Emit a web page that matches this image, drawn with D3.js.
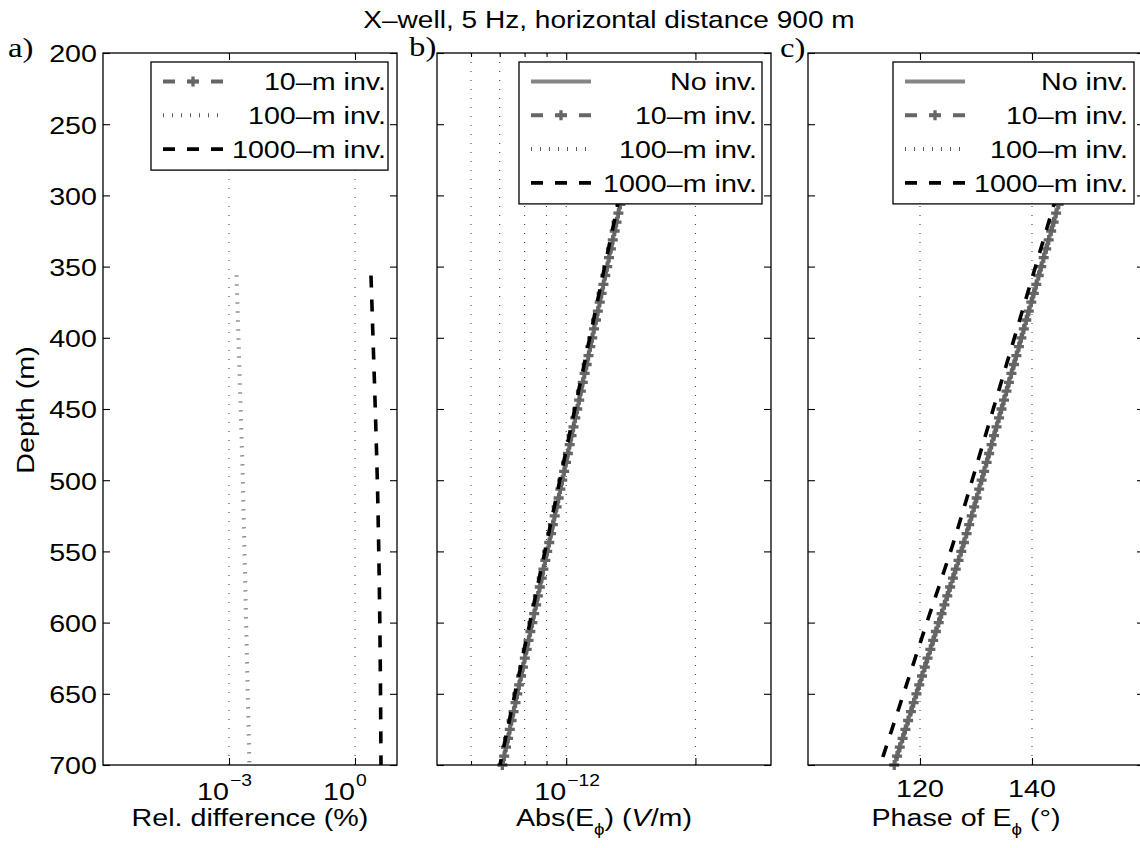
<!DOCTYPE html>
<html><head><meta charset="utf-8">
<script src="https://cdn.jsdelivr.net/npm/d3@7"></script>
<style>body{margin:0;background:#fff}svg{display:block}</style>
</head><body>
<svg id="fig" width="1140" height="848"></svg>
<script>
// ---------------- data ----------------
const titleText = "X\u2013well, 5 Hz, horizontal distance 900 m";
const depth = [300,306.25,312.5,318.75,325,331.25,337.5,343.75,350,356.25,362.5,368.75,375,381.25,387.5,393.75,
  400,406.25,412.5,418.75,425,431.25,437.5,443.75,450,456.25,462.5,468.75,475,481.25,487.5,493.75,
  500,506.25,512.5,518.75,525,531.25,537.5,543.75,550,556.25,562.5,568.75,575,581.25,587.5,593.75,
  600,606.25,612.5,618.75,625,631.25,637.5,643.75,650,656.25,662.5,668.75,675,681.25,687.5,693.75,700];
const depthRel = [356.25,362.5,368.75,375,381.25,387.5,393.75,
  400,406.25,412.5,418.75,425,431.25,437.5,443.75,450,456.25,462.5,468.75,475,481.25,487.5,493.75,
  500,506.25,512.5,518.75,525,531.25,537.5,543.75,550,556.25,562.5,568.75,575,581.25,587.5,593.75,
  600,606.25,612.5,618.75,625,631.25,637.5,643.75,650,656.25,662.5,668.75,675,681.25,687.5,693.75,700];

// a) relative difference (%)
const relInv100 = [1.510e-3,1.533e-3,1.557e-3,1.580e-3,1.605e-3,1.629e-3,1.654e-3,1.679e-3,1.705e-3,1.731e-3,
  1.757e-3,1.784e-3,1.811e-3,1.839e-3,1.867e-3,1.896e-3,1.925e-3,1.954e-3,1.984e-3,2.014e-3,
  2.045e-3,2.076e-3,2.108e-3,2.132e-3,2.156e-3,2.181e-3,2.205e-3,2.231e-3,2.256e-3,2.282e-3,
  2.308e-3,2.334e-3,2.360e-3,2.387e-3,2.415e-3,2.442e-3,2.470e-3,2.498e-3,2.526e-3,2.555e-3,
  2.584e-3,2.614e-3,2.643e-3,2.674e-3,2.704e-3,2.735e-3,2.766e-3,2.798e-3,2.830e-3,2.862e-3,
  2.895e-3,2.928e-3,2.961e-3,2.995e-3,3.029e-3,3.063e-3];
const relInv1000 = [2.40,2.44,2.48,2.52,2.56,2.60,2.64,2.68,2.725,2.77,
  2.815,2.86,2.905,2.95,2.995,3.04,3.085,3.13,3.175,3.22,
  3.265,3.31,3.355,3.40,3.44,3.48,3.515,3.55,3.58,3.615,
  3.65,3.68,3.71,3.74,3.77,3.80,3.825,3.85,3.875,3.90,
  3.92,3.94,3.96,3.98,4.00,4.015,4.035,4.05,4.065,4.08,
  4.095,4.11,4.12,4.135,4.145,4.16];

// b) Abs(E_phi), in units of 1e-12 V/m
const absUnit = 1e-12;
const absNoInv = [1.350,1.337,1.323,1.310,1.297,1.284,1.271,1.258,1.246,1.233,
  1.221,1.209,1.197,1.185,1.173,1.161,1.150,1.138,1.127,1.116,
  1.104,1.093,1.082,1.072,1.061,1.050,1.040,1.029,1.019,1.009,
  0.999,0.989,0.979,0.969,0.960,0.950,0.940,0.931,0.922,0.913,
  0.903,0.894,0.885,0.877,0.868,0.859,0.851,0.842,0.834,0.825,
  0.817,0.809,0.801,0.793,0.785,0.777,0.769,0.762,0.754,0.746,
  0.739,0.732,0.724,0.717,0.710];
const absInv10 = [...absNoInv];   // indistinguishable from "No inv." in the picture
const absInv100 = [...absNoInv];  // indistinguishable from "No inv." in the picture
const absInv1000 = [1.332,1.319,1.306,1.293,1.280,1.267,1.254,1.242,1.229,1.217,
  1.205,1.193,1.181,1.169,1.158,1.146,1.135,1.123,1.112,1.101,
  1.090,1.079,1.068,1.058,1.047,1.037,1.026,1.016,1.006,0.996,
  0.986,0.976,0.966,0.957,0.947,0.938,0.928,0.919,0.910,0.901,
  0.892,0.883,0.874,0.865,0.857,0.848,0.840,0.831,0.823,0.815,
  0.806,0.798,0.790,0.783,0.775,0.767,0.759,0.752,0.744,0.737,
  0.729,0.722,0.715,0.708,0.701];

// c) phase of E_phi (degrees)
const phaseNoInv = [145.20,144.76,144.31,143.87,143.42,142.98,142.54,142.09,141.65,141.20,
  140.76,140.32,139.87,139.43,138.98,138.54,138.10,137.66,137.21,136.77,
  136.33,135.88,135.44,135.00,134.55,134.11,133.67,133.22,132.78,132.34,
  131.89,131.45,131.00,130.56,130.12,129.67,129.23,128.78,128.32,127.85,
  127.37,126.88,126.38,125.88,125.38,124.87,124.36,123.85,123.34,122.84,
  122.35,121.85,121.35,120.86,120.36,119.87,119.37,118.87,118.38,117.88,
  117.39,116.89,116.39,115.90,115.40];
const phaseInv10 = [...phaseNoInv];   // indistinguishable from "No inv."
const phaseInv100 = [...phaseNoInv];  // indistinguishable from "No inv."
const phaseInv1000 = [144.40,143.93,143.45,142.99,142.51,142.04,141.57,141.10,140.63,140.15,
  139.68,139.21,138.74,138.27,137.79,137.32,136.86,136.39,135.91,135.44,
  134.97,134.50,134.03,133.56,133.08,132.62,132.15,131.67,131.20,130.73,
  130.26,129.79,129.31,128.84,128.38,127.90,127.43,126.95,126.46,125.97,
  125.46,124.94,124.41,123.88,123.36,122.82,122.29,121.75,121.22,120.70,
  120.18,119.66,119.14,118.62,118.10,117.58,117.06,116.54,116.02,115.50,
  114.99,114.46,113.94,113.42,112.90];

// ticks
const depthTicks = [200,250,300,350,400,450,500,550,600,650,700];
const relTicks = [1e-3, 1e0];
const absTicks = [1e-12];
const absMajorNoLabel = [2e-12];
const absMinor = [6e-13,7e-13,8e-13,9e-13];
const phaseTicks = [120, 140];
const legendLabels = {noinv:"No inv.", inv10:"10\u2013m inv.", inv100:"100\u2013m inv.", inv1000:"1000\u2013m inv."};

// ---------------- drawing ----------------
const SX = 1.17;
const FS = 24.5;
const FONT = "'Liberation Sans', Arial, Helvetica, 'DejaVu Sans', sans-serif";
const SERIF = "'Liberation Serif', 'DejaVu Serif', serif";
const svg = d3.select('#fig');
svg.append('rect').attr('width',1140).attr('height',848).attr('fill','#fff');

function txt(parent, x, y, s, anchor, size, rot, family) {
  const t = parent.append('text')
    .attr('transform', `translate(${x},${y})` + (rot ? ` rotate(${rot})` : '') + ` scale(${SX},1)`)
    .attr('text-anchor', anchor || 'start')
    .attr('font-family', family || FONT).attr('font-size', size || FS).attr('fill', '#000');
  if (s != null) t.text(s);
  return t;
}

const TOP = 53, BOT = 765;
const y = d3.scaleLinear().domain([200, 700]).range([TOP, BOT]);

const STY = {
  noinv:  {stroke:'#858585', width:4,   dash:null},
  inv10:  {stroke:'#666666', width:4,   dash:'12,12', marker:true},
  inv100: {stroke:'#5c5c5c', width:4,   dash:'1,8'},
  inv1000:{stroke:'#000000', width:3.6, dash:'12,12'}
};
const plusPath = 'M-5,0H5M0,-5V5';

const panels = [
  {id:'a', x0:103, x1:397, sc:d3.scaleLog().domain([1e-6, 1e1]),
   major:relTicks, labelled:relTicks, minor:[], grid:relTicks, log:true, ylabels:true,
   series:[{k:'inv100', d:depthRel, v:relInv100, u:1},{k:'inv1000', d:depthRel, v:relInv1000, u:1}],
   legend:{left:151, right:388, textRight:386, keys:['inv10','inv100','inv1000']},
   tag:{x:8, y:57}},
  {id:'b', x0:437, x1:771, sc:d3.scaleLog().domain([5e-13, 3e-12]),
   major:absTicks.concat(absMajorNoLabel), labelled:absTicks, minor:absMinor,
   grid:absMinor.concat(absTicks, absMajorNoLabel), log:true,
   series:[{k:'noinv', d:depth, v:absNoInv, u:absUnit},{k:'inv10', d:depth, v:absInv10, u:absUnit},
           {k:'inv100', d:depth, v:absInv100, u:absUnit},{k:'inv1000', d:depth, v:absInv1000, u:absUnit}],
   legend:{left:519, right:762, textRight:757, keys:['noinv','inv10','inv100','inv1000']},
   tag:{x:409, y:56}},
  {id:'c', x0:808, x1:1144, sc:d3.scaleLinear().domain([100, 160]),
   major:phaseTicks, labelled:phaseTicks, minor:[], grid:phaseTicks, log:false,
   series:[{k:'noinv', d:depth, v:phaseNoInv, u:1},{k:'inv10', d:depth, v:phaseInv10, u:1},
           {k:'inv100', d:depth, v:phaseInv100, u:1},{k:'inv1000', d:depth, v:phaseInv1000, u:1}],
   legend:{left:893, right:1134, textRight:1128, keys:['noinv','inv10','inv100','inv1000']},
   tag:{x:780, y:57}}
];

function styleLine(sel, s) {
  sel.attr('fill','none').attr('stroke', s.stroke).attr('stroke-width', s.width);
  if (s.dash) sel.attr('stroke-dasharray', s.dash);
  return sel;
}

panels.forEach(p => {
  const x = p.sc.range([p.x0, p.x1]);
  const g = svg.append('g');

  // grid
  g.append('g').selectAll('line').data(p.grid).join('line')
    .attr('x1', d => x(d)).attr('x2', d => x(d)).attr('y1', TOP).attr('y2', BOT)
    .attr('stroke', '#333').attr('stroke-width', 1).attr('stroke-dasharray', '1,8');

  // series
  p.series.forEach(s => {
    const st = STY[s.k];
    const pts = s.d.map((dd, i) => ({d: dd, v: s.v[i] * s.u}));
    const line = d3.line().x(q => x(q.v)).y(q => y(q.d));
    styleLine(g.append('path').datum(pts).attr('d', line), st);
    if (st.marker) {
      g.append('g').selectAll('path').data(pts).join('path')
        .attr('transform', q => `translate(${x(q.v)},${y(q.d)})`)
        .attr('d', plusPath).attr('fill','none')
        .attr('stroke', st.stroke).attr('stroke-width', 3.3);
    }
  });

  // axes (ticks inward)
  const clean = a => a.call(q => q.select('.domain').remove());
  const yl = d3.axisLeft(y).tickValues(depthTicks).tickSizeInner(-7).tickSizeOuter(0).tickPadding(6);
  if (!p.ylabels) yl.tickFormat(() => '');
  const gl = g.append('g').attr('transform', `translate(${p.x0},0)`).call(yl).call(clean);
  gl.attr('font-size', FS).attr('font-family', FONT);
  gl.selectAll('.tick text').attr('transform', `scale(${SX},1)`).attr('x', -6 / SX).attr('dy', '0.36em');
  g.append('g').attr('transform', `translate(${p.x1},0)`)
    .call(d3.axisRight(y).tickValues(depthTicks).tickSizeInner(-7).tickSizeOuter(0).tickFormat(() => '')).call(clean);
  g.append('g').attr('transform', `translate(0,${BOT})`)
    .call(d3.axisBottom(x).tickValues(p.major).tickSizeInner(-7).tickSizeOuter(0).tickFormat(() => '')).call(clean);
  g.append('g').attr('transform', `translate(0,${TOP})`)
    .call(d3.axisTop(x).tickValues(p.major).tickSizeInner(-7).tickSizeOuter(0).tickFormat(() => '')).call(clean);
  if (p.minor.length) {
    g.append('g').attr('transform', `translate(0,${BOT})`)
      .call(d3.axisBottom(x).tickValues(p.minor).tickSizeInner(-4).tickSizeOuter(0).tickFormat(() => '')).call(clean);
    g.append('g').attr('transform', `translate(0,${TOP})`)
      .call(d3.axisTop(x).tickValues(p.minor).tickSizeInner(-4).tickSizeOuter(0).tickFormat(() => '')).call(clean);
  }
  g.selectAll('.tick line').attr('stroke', '#000').attr('stroke-width', 1.1);

  // x tick labels
  p.labelled.forEach(t => {
    if (p.log) {
      const e = Math.round(Math.log10(t));
      txt(g, x(t), 800, '10', 'end', FS);
      txt(g, x(t) + 1, 786, (e < 0 ? '\u2212' + (-e) : String(e)), 'start', 16.5);
    } else {
      txt(g, x(t), 797, String(t), 'middle', FS);
    }
  });

  // box
  g.append('rect').attr('x', p.x0).attr('y', TOP).attr('width', p.x1 - p.x0).attr('height', BOT - TOP)
    .attr('fill', 'none').attr('stroke', '#000').attr('stroke-width', 1.3);

  // legend
  const L = p.legend, rowY0 = 81.5, rowDY = 33.8;
  const lg = g.append('g');
  const lh = 19.5 + rowDY * (L.keys.length - 1) + 21;
  lg.append('rect').attr('x', L.left).attr('y', 62).attr('width', L.right - L.left).attr('height', lh)
    .attr('fill', '#fff').attr('stroke', '#000').attr('stroke-width', 1.3);
  L.keys.forEach((k, i) => {
    const ry = rowY0 + rowDY * i, st = STY[k];
    styleLine(lg.append('line').attr('x1', L.left + 12).attr('x2', L.left + 72).attr('y1', ry).attr('y2', ry), st);
    if (st.marker) lg.append('path').attr('transform', `translate(${L.left + 42},${ry})`).attr('d', plusPath)
      .attr('fill', 'none').attr('stroke', st.stroke).attr('stroke-width', 3.3);
    txt(lg, L.textRight, ry + 8.7, legendLabels[k], 'end', FS);
  });

  // panel tag
  txt(svg, p.tag.x, p.tag.y, p.id + ')', 'start', 28, 0, SERIF);
});

// axis titles
txt(svg, 34, 410, 'Depth (m)', 'middle', FS, -90);
txt(svg, 250, 826, 'Rel. difference (%)', 'middle', FS);
{
  const t = txt(svg, 604, 826, null, 'middle', FS);
  t.append('tspan').text('Abs(E');
  t.append('tspan').attr('font-size', 16).attr('dy', 9).text('\u03D5');
  t.append('tspan').attr('dy', -9).text(') (');
  t.append('tspan').attr('font-style', 'italic').text('V');
  t.append('tspan').text('/m)');
}
{
  const t = txt(svg, 966, 826, null, 'middle', FS);
  t.append('tspan').text('Phase of E');
  t.append('tspan').attr('font-size', 16).attr('dy', 9).text('\u03D5');
  t.append('tspan').attr('dy', -9).text(' (\u00B0)');
}
// title
txt(svg, 609, 28, titleText, 'middle', 24);
</script>
</body></html>
